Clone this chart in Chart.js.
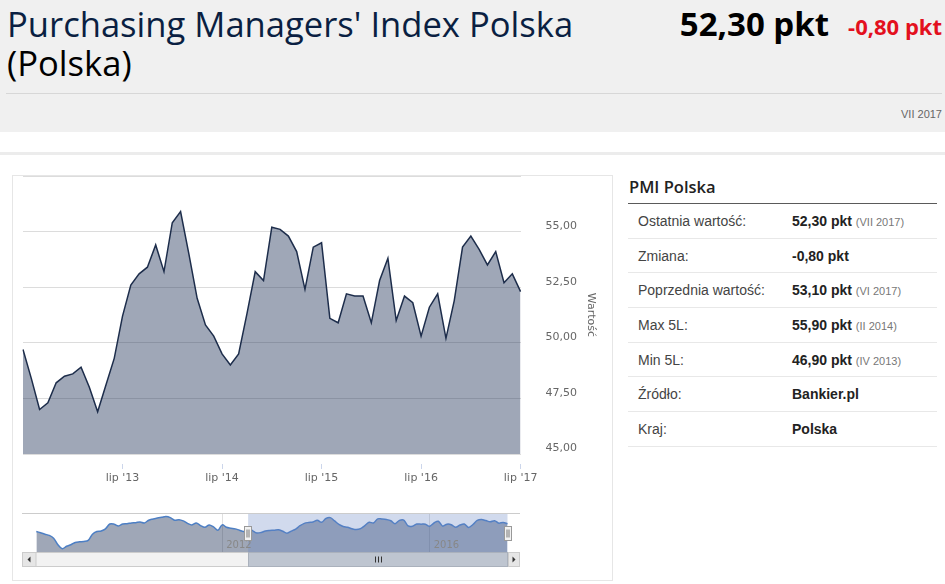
<!DOCTYPE html>
<html lang="pl">
<head>
<meta charset="utf-8">
<title>PMI Polska</title>
<script src="https://cdn.jsdelivr.net/npm/chart.js@4.4.1/dist/chart.umd.min.js"></script>
<style>
  html, body { margin: 0; padding: 0; }
  body { width: 945px; height: 584px; overflow: hidden; background: #fff; position: relative; font-family: "Liberation Sans", Arial, sans-serif; }
  .head { position: absolute; left: 0; top: 0; width: 945px; height: 132px; background: #f0f0f0; }
  .title { position: absolute; left: 7px; top: 4px; margin: 0; font: 400 34.6px/39.3px "Open Sans", sans-serif; color: #0a1f42; white-space: nowrap; }
  .title span { color: #000; }
  .price { position: absolute; right: 116px; top: 7px; font: 700 33px/33px "Open Sans", sans-serif; color: #000; white-space: nowrap; }
  .change { position: absolute; right: 3px; top: 15px; font: 700 22px/22px "Open Sans", sans-serif; color: #e3101e; white-space: nowrap; }
  .divider { position: absolute; left: 6px; top: 93px; width: 936px; height: 1px; background: #d7d7d7; }
  .date { position: absolute; right: 3px; top: 108px; font-size: 11px; line-height: 13px; color: #666; }
  .band { position: absolute; left: 0; top: 152px; width: 945px; height: 3px; background: #ececec; }
  .panel { position: absolute; left: 12px; top: 175px; width: 601px; height: 406px; box-sizing: border-box; border: 1px solid #e6e6e6; }
  .main-wrap { position: absolute; left: 13px; top: 175px; width: 599px; height: 320px; }
  .nav-wrap { position: absolute; left: 22px; top: 508px; width: 498px; height: 60px; }
  .info { position: absolute; left: 628px; top: 0; width: 309px; }
  .info h3 { position: absolute; left: 1px; top: 177px; margin: 0; font: 600 16.5px/20px "Open Sans", sans-serif; color: #222; white-space: nowrap; }
  .info .rule { position: absolute; left: 0; top: 203px; width: 309px; height: 1px; background: #5a5a5a; }
  .rows { position: absolute; left: 0; top: 204px; width: 309px; }
  .row { height: 34.7px; box-sizing: border-box; border-bottom: 1px solid #e8e8e8; display: flex; align-items: center; font-size: 14px; color: #444; }
  .row .k { width: 164px; padding-left: 10px; box-sizing: border-box; white-space: nowrap; }
  .row .v { font-weight: 700; color: #222; white-space: nowrap; }
  .row .v small { font-weight: 400; font-size: 11px; color: #777; }
</style>
</head>
<body>
<div class="head">
  <h1 class="title">Purchasing Managers' Index Polska<br><span>(Polska)</span></h1>
  <div class="price">52,30 pkt</div>
  <div class="change">-0,80 pkt</div>
  <div class="divider"></div>
  <div class="date">VII 2017</div>
</div>
<div class="band"></div>
<div class="panel"></div>
<div class="main-wrap"><canvas id="pmiChart"></canvas></div>
<div class="nav-wrap"><canvas id="navChart"></canvas></div>
<div class="info">
  <h3>PMI Polska</h3>
  <div class="rule"></div>
  <div class="rows">
    <div class="row"><div class="k">Ostatnia wartość:</div><div class="v">52,30 pkt <small>(VII 2017)</small></div></div>
    <div class="row"><div class="k">Zmiana:</div><div class="v">-0,80 pkt</div></div>
    <div class="row"><div class="k">Poprzednia wartość:</div><div class="v">53,10 pkt <small>(VI 2017)</small></div></div>
    <div class="row"><div class="k">Max 5L:</div><div class="v">55,90 pkt <small>(II 2014)</small></div></div>
    <div class="row"><div class="k">Min 5L:</div><div class="v">46,90 pkt <small>(IV 2013)</small></div></div>
    <div class="row"><div class="k">Źródło:</div><div class="v">Bankier.pl</div></div>
    <div class="row"><div class="k">Kraj:</div><div class="v">Polska</div></div>
  </div>
</div>
<script>
// month names used for the category labels
const monthNames = ['sty', 'lut', 'mar', 'kwi', 'maj', 'cze', 'lip', 'sie', 'wrz', 'paź', 'lis', 'gru'];
const firstYear = 2008;
const firstMonth = 5; // cze 2008, first point of the navigator

const navHistory = [
  47.9, 47.1, 46.3, 45.6, 44.0, 40.2, 37.9,
  39.3, 40.2, 41.5, 41.9, 42.1, 42.7, 46.3, 47.9, 48.2, 49.4, 52.2, 52.1,
  51.1, 52.2, 52.4, 52.8, 53.0, 53.4, 52.8, 54.4, 55.1, 55.7, 56.1, 56.5,
  55.9, 54.4, 54.7, 54.0, 52.6, 51.7, 52.8, 51.3, 50.3, 51.7, 50.5, 48.6,
  51.7, 50.3, 49.8, 49.4, 48.6, 47.9
];

// main chart: lip 2012 - lip 2017
const pmiValues = [
  49.7, 48.4, 47.0, 47.3, 48.2, 48.5,
  48.6, 48.9, 48.0, 46.9, 48.1, 49.3, 51.2, 52.6, 53.1, 53.4, 54.4, 53.2,
  55.4, 55.9, 54.0, 52.0, 50.8, 50.3, 49.5, 49.0, 49.5, 51.3, 53.2, 52.8,
  55.2, 55.1, 54.8, 54.1, 52.4, 54.3, 54.5, 51.1, 50.9, 52.2, 52.1, 52.1,
  50.9, 52.8, 53.8, 51.0, 52.1, 51.8, 50.3, 51.6, 52.2, 50.2, 51.9, 54.3,
  54.8, 54.2, 53.5, 54.1, 52.7, 53.1, 52.3
];

const navYears = ['2012', '2016'];

const navValues = navHistory.concat(pmiValues);
const allLabels = navValues.map((v, i) => {
  const m = (firstMonth + i) % 12;
  const y = firstYear + Math.floor((firstMonth + i) / 12);
  return monthNames[m] + " '" + String(y).slice(2);
});
const mainLabels = allLabels.slice(navHistory.length);
const selStart = navHistory.length;
const selEnd = navValues.length - 1;
const navYearIdx = navYears.map(y => allLabels.indexOf("sty '" + y.slice(2)));

const axisFont = { family: 'DejaVu Sans', size: 11 };

new Chart(document.getElementById('pmiChart'), {
  type: 'line',
  data: {
    labels: mainLabels,
    datasets: [{
      data: pmiValues,
      borderColor: '#1d2d4b',
      borderWidth: 1.5,
      backgroundColor: 'rgba(33,52,88,0.43)',
      fill: 'start',
      pointRadius: 0,
      tension: 0
    }]
  },
  options: {
    responsive: true,
    maintainAspectRatio: false,
    animation: false,
    layout: { padding: { left: 10, top: 1, right: 10.4, bottom: 0 } },
    plugins: { legend: { display: false }, tooltip: { enabled: false } },
    scales: {
      x: {
        offset: false,
        grid: {
          drawOnChartArea: false,
          tickLength: 15,
          tickBorderDash: [0, 10, 5, 100],
          tickColor: ctx => (ctx.index > 0 && ctx.index % 12 === 0) ? '#ccd6eb' : 'rgba(0,0,0,0)'
        },
        border: { display: false },
        ticks: {
          autoSkip: false, maxRotation: 0, minRotation: 0, padding: 3,
          color: '#666', font: axisFont,
          callback: function (v, i) { return (i > 0 && i % 12 === 0) ? this.getLabelForValue(v) : ''; }
        },
        afterFit: s => { s.height = 41; }
      },
      y: {
        position: 'right',
        min: 45, max: 57.5,
        grid: { color: '#dcdcdc', drawTicks: false },
        border: { display: false },
        ticks: {
          stepSize: 2.5, padding: 25, labelOffset: -5.5,
          color: '#666', font: axisFont,
          callback: v => v === 57.5 ? '' : v.toFixed(2).replace('.', ',')
        },
        title: { display: true, text: 'Wartość', color: '#666', font: axisFont },
        afterFit: s => { s.width = 81; s.paddingTop = 0; s.paddingBottom = 0; }
      }
    }
  }
});

// navigator mask, handles and scrollbar
const navigatorOverlay = {
  id: 'navigatorOverlay',
  afterDraw(chart) {
    const { ctx, chartArea: a, scales: { x } } = chart;
    const x0 = x.getPixelForValue(selStart);
    const x1 = x.getPixelForValue(selEnd);
    ctx.save();
    ctx.fillStyle = 'rgba(102,133,194,0.3)';
    ctx.fillRect(x0, a.top, x1 - x0, a.bottom - a.top);

    ctx.strokeStyle = '#cccccc';
    ctx.lineWidth = 1;
    ctx.beginPath();
    ctx.moveTo(0, Math.round(a.top) - 0.5);
    ctx.lineTo(chart.width, Math.round(a.top) - 0.5);
    ctx.stroke();

    ctx.fillStyle = '#888';
    ctx.font = '10px "DejaVu Sans"';
    ctx.textBaseline = 'alphabetic';
    navYearIdx.forEach((idx, k) => {
      ctx.fillText(navYears[k], x.getPixelForValue(idx) + 4, a.bottom - 4);
    });

    // scrollbar
    const sy = Math.round(a.bottom) + 0.5, sh = 14;
    ctx.fillStyle = '#f2f2f2';
    ctx.fillRect(0.5, sy, chart.width - 1, sh);
    ctx.strokeStyle = '#cccccc';
    ctx.strokeRect(0.5, sy, chart.width - 1, sh);
    ctx.fillStyle = '#bec5d0';
    ctx.fillRect(x0, sy, x1 - x0, sh);
    ctx.strokeStyle = '#aab1bc';
    ctx.strokeRect(Math.round(x0) + 0.5, sy, Math.round(x1 - x0), sh);
    ctx.fillStyle = '#e6e6e6';
    ctx.strokeStyle = '#cccccc';
    ctx.fillRect(0.5, sy, 13.5, sh);
    ctx.strokeRect(0.5, sy, 13.5, sh);
    ctx.fillRect(Math.round(x1) + 0.5, sy, chart.width - Math.round(x1) - 1, sh);
    ctx.strokeRect(Math.round(x1) + 0.5, sy, chart.width - Math.round(x1) - 1, sh);
    ctx.fillStyle = '#333';
    const cy = sy + sh / 2;
    ctx.beginPath();
    ctx.moveTo(5.5, cy); ctx.lineTo(8.5, cy - 3); ctx.lineTo(8.5, cy + 3); ctx.closePath(); ctx.fill();
    const rx = (Math.round(x1) + chart.width) / 2;
    ctx.beginPath();
    ctx.moveTo(rx + 1.5, cy); ctx.lineTo(rx - 1.5, cy - 3); ctx.lineTo(rx - 1.5, cy + 3); ctx.closePath(); ctx.fill();
    ctx.strokeStyle = '#333';
    const gx = Math.round((x0 + x1) / 2) + 0.5;
    [-3, 0, 3].forEach(d => {
      ctx.beginPath(); ctx.moveTo(gx + d, cy - 3); ctx.lineTo(gx + d, cy + 3); ctx.stroke();
    });

    // handles
    const hy = Math.round((a.top + a.bottom) / 2) - 7 + 0.5;
    [x0, x1].forEach(hx => {
      const l = Math.round(hx) - 3.5;
      ctx.fillStyle = '#f2f2f2';
      ctx.strokeStyle = '#999';
      ctx.fillRect(l, hy, 7, 14);
      ctx.strokeRect(l, hy, 7, 14);
      ctx.strokeStyle = '#777';
      [2, 4].forEach(d => {
        ctx.beginPath(); ctx.moveTo(l + d + 0.5, hy + 3); ctx.lineTo(l + d + 0.5, hy + 11); ctx.stroke();
      });
    });
    ctx.restore();
  }
};

new Chart(document.getElementById('navChart'), {
  type: 'line',
  data: {
    labels: allLabels,
    datasets: [{
      data: navValues,
      borderColor: '#4d7fc4',
      borderWidth: 1.5,
      backgroundColor: 'rgba(33,52,88,0.43)',
      fill: 'start',
      pointRadius: 0,
      tension: 0.35
    }]
  },
  options: {
    responsive: true,
    maintainAspectRatio: false,
    animation: false,
    layout: { padding: { left: 14.3, right: 12.5, top: 6, bottom: 16 } },
    plugins: { legend: { display: false }, tooltip: { enabled: false } },
    scales: {
      x: {
        offset: false,
        grid: { color: ctx => navYearIdx.includes(ctx.index) ? '#e0e0e0' : 'rgba(0,0,0,0)', drawTicks: false },
        border: { display: false },
        ticks: { display: false, autoSkip: false },
        afterFit: s => { s.height = 0; }
      },
      y: { display: false, min: 36, max: 58 }
    }
  },
  plugins: [navigatorOverlay]
});
</script>
</body>
</html>
